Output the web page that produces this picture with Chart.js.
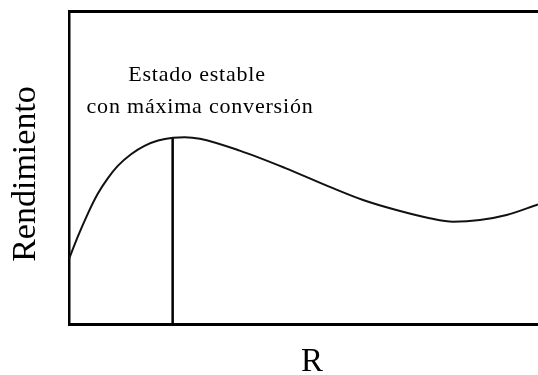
<!DOCTYPE html>
<html>
<head>
<meta charset="utf-8">
<script src="https://cdn.jsdelivr.net/npm/chart.js@4"></script>
<style>
  html, body { margin: 0; padding: 0; background: #fff; }
  #wrap { width: 538px; height: 375px; }
</style>
</head>
<body>
<div id="wrap"><canvas id="chart"></canvas></div>
<script>
// R values (arbitrary units 0-10) and yield
const rValues = [0, 0.19, 0.40, 0.61, 0.83, 1.04, 1.33, 1.61, 1.90, 2.22, 2.47, 2.79, 3.64, 4.60, 5.56, 6.27, 6.98, 7.69, 8.19, 8.76, 9.33, 10];
const yieldValues = [2.08, 2.80, 3.52, 4.15, 4.66, 5.05, 5.43, 5.69, 5.86, 5.95, 5.97, 5.92, 5.54, 4.99, 4.38, 3.96, 3.64, 3.38, 3.27, 3.32, 3.48, 3.82];

// steady state with maximum conversion
const peakR = [2.21, 2.21];
const peakY = [0, 5.95];

const annotation = ["Estado estable", "con máxima conversión"];
const xTitle = "R";
const yTitle = "Rendimiento";

const serif = '"Liberation Serif", "Times New Roman", serif';

const toPoints = (xs, ys) => xs.map((x, i) => ({ x: x, y: ys[i] }));

// Axis titles and annotation text
const textPlugin = {
  id: "texts",
  afterDraw(chart) {
    const ctx = chart.ctx;
    ctx.save();
    ctx.fillStyle = "#000";
    ctx.textAlign = "center";
    ctx.textBaseline = "alphabetic";

    ctx.font = "22px " + serif;
    ctx.letterSpacing = "0.8px";
    ctx.fillText(annotation[0], 197, 81);
    ctx.fillText(annotation[1], 200, 113);
    ctx.letterSpacing = "0px";

    ctx.font = "33px " + serif;
    ctx.fillText(xTitle, 312, 371);

    ctx.translate(35, 174);
    ctx.rotate(-Math.PI / 2);
    ctx.font = "34px " + serif;
    ctx.fillText(yTitle, 0, 0);
    ctx.restore();
  }
};

new Chart(document.getElementById("chart"), {
  type: "line",
  data: {
    datasets: [{
      data: toPoints(rValues, yieldValues),
      borderColor: "#111",
      borderWidth: 2,
      pointRadius: 0,
      cubicInterpolationMode: "monotone",
      fill: false
    }, {
      data: toPoints(peakR, peakY),
      borderColor: "#000",
      borderWidth: 2.5,
      pointRadius: 0,
      fill: false
    }]
  },
  options: {
    responsive: true,
    maintainAspectRatio: false,
    animation: false,
    layout: { padding: { left: 69, top: 11, right: 0, bottom: 51 } },
    plugins: {
      legend: { display: false },
      tooltip: { enabled: false }
    },
    scales: {
      x: {
        type: "linear",
        min: 0,
        max: 10,
        grid: { display: false, drawTicks: false },
        ticks: { display: false },
        border: { display: true, color: "#000", width: 3 }
      },
      xTop: {
        type: "linear",
        position: "top",
        min: 0,
        max: 10,
        grid: { display: false, drawTicks: false },
        ticks: { display: false },
        border: { display: true, color: "#000", width: 3 }
      },
      y: {
        type: "linear",
        min: 0,
        max: 10,
        grid: { display: false, drawTicks: false },
        ticks: { display: false },
        border: { display: true, color: "#000", width: 2.5 }
      }
    }
  },
  plugins: [textPlugin]
});
</script>
</body>
</html>
